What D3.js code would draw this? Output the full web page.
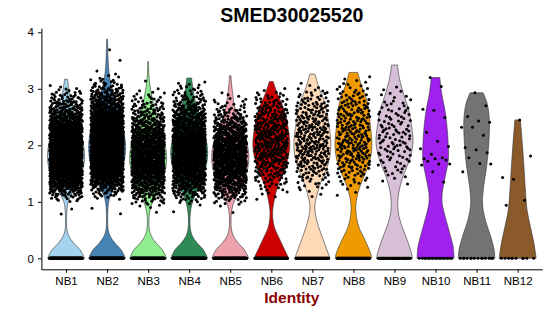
<!DOCTYPE html>
<html>
<head>
<meta charset="utf-8">
<script src="https://cdn.jsdelivr.net/npm/d3@7"></script>
<style>
  body { margin: 0; background: #fff; }
  svg { display: block; font-family: "Liberation Sans", Arial, sans-serif; }
</style>
</head>
<body>
<div id="chart"></div>
<script>
// clusters and their fill colours
const clusters = ["NB1", "NB2", "NB3", "NB4", "NB5", "NB6", "NB7", "NB8", "NB9", "NB10", "NB11", "NB12"];
const fills = ["#A4D3EE", "#4682B4", "#90EE90", "#2E8B57", "#EEA2AD", "#CD0000",
               "#FFDAB9", "#EE9A00", "#D8BFD8", "#A020F0", "#737373", "#8B5A2B"];

// violin outlines: [expression, relative width]
const profiles = [
  [[0,1],[0.15,0.76],[0.27,0.41],[0.39,0.16],[0.5,0.05],[0.7,0.03],[0.9,0.06],[1.0,0.12],[1.15,0.33],[1.3,0.6],[1.5,0.85],[1.75,1],[2.0,0.95],[2.3,0.75],[2.6,0.45],[2.85,0.25],[3.0,0.15],[3.17,0.08]],
  [[0,1],[0.15,0.76],[0.27,0.42],[0.39,0.17],[0.5,0.06],[0.7,0.03],[0.9,0.05],[1.05,0.12],[1.2,0.3],[1.4,0.6],[1.65,0.88],[1.95,1],[2.25,0.9],[2.55,0.65],[2.85,0.4],[3.1,0.2],[3.3,0.1],[3.55,0.05],[3.88,0.02]],
  [[0,1],[0.15,0.77],[0.27,0.43],[0.39,0.18],[0.5,0.07],[0.65,0.04],[0.8,0.07],[0.95,0.18],[1.1,0.38],[1.3,0.65],[1.55,0.92],[1.8,1],[2.05,0.88],[2.3,0.62],[2.55,0.4],[2.8,0.24],[3.05,0.1],[3.25,0.04],[3.48,0.02]],
  [[0,1],[0.15,0.77],[0.27,0.43],[0.39,0.18],[0.5,0.07],[0.65,0.04],[0.8,0.06],[0.95,0.14],[1.1,0.3],[1.35,0.65],[1.65,0.93],[1.9,1],[2.2,0.85],[2.5,0.6],[2.85,0.28],[3.0,0.2],[3.19,0.13]],
  [[0,1],[0.15,0.77],[0.27,0.43],[0.39,0.18],[0.5,0.07],[0.65,0.04],[0.8,0.06],[0.95,0.15],[1.1,0.35],[1.35,0.7],[1.6,0.95],[1.85,1],[2.1,0.85],[2.4,0.5],[2.65,0.25],[2.9,0.14],[3.05,0.08],[3.23,0.04]],
  [[0,0.94],[0.09,0.81],[0.32,0.48],[0.56,0.16],[0.8,0.07],[1.03,0.16],[1.27,0.34],[1.5,0.63],[1.74,0.88],[2.0,1],[2.33,0.9],[2.62,0.7],[2.92,0.32],[3.13,0.1]],
  [[0,0.95],[0.21,0.72],[0.45,0.45],[0.68,0.23],[0.91,0.13],[1.15,0.27],[1.39,0.51],[1.68,0.86],[1.98,1],[2.33,0.91],[2.74,0.68],[3.04,0.33],[3.26,0.14]],
  [[0,0.99],[0.09,0.93],[0.32,0.63],[0.56,0.29],[0.8,0.14],[0.97,0.14],[1.21,0.29],[1.44,0.56],[1.68,0.85],[1.98,1],[2.33,0.92],[2.74,0.77],[3.04,0.45],[3.29,0.23]],
  [[0,0.97],[0.09,0.92],[0.32,0.69],[0.56,0.41],[0.8,0.21],[1.03,0.18],[1.27,0.3],[1.5,0.52],[1.74,0.81],[2.04,1],[2.33,0.93],[2.62,0.77],[2.86,0.54],[3.16,0.28],[3.42,0.16]],
  [[0,1],[0.21,0.95],[0.44,0.77],[0.74,0.52],[0.97,0.36],[1.15,0.36],[1.44,0.52],[1.74,0.69],[2.04,0.68],[2.33,0.62],[2.62,0.51],[2.92,0.33],[3.2,0.23]],
  [[0,0.99],[0.15,0.95],[0.38,0.77],[0.68,0.47],[0.97,0.32],[1.27,0.38],[1.62,0.54],[2.04,0.66],[2.45,0.69],[2.74,0.57],[2.93,0.35]],
  [[0,1],[0.27,0.88],[0.56,0.69],[0.85,0.51],[1.15,0.43],[1.62,0.34],[2.04,0.25],[2.45,0.15]]
];

// cells per cluster (estimated): expressing cells and cells at zero
const nonzeroCounts = [1300, 1400, 900, 1000, 800, 380, 300, 260, 115, 0, 0, 0];
const zeroCounts = [300, 300, 250, 250, 250, 150, 120, 100, 50, 18, 14, 10];

// the sparse clusters, read point by point
const nb10Values = [3.2, 3.04, 2.64, 2.62, 2.49, 2.23, 2.07, 1.98, 1.94, 1.84, 1.78, 1.76, 1.76, 1.74, 1.72, 1.67, 1.67, 1.65, 1.53, 1.35];
const nb11Values = [2.93, 2.7, 2.51, 2.43, 2.41, 2.32, 2.32, 2.18, 1.96, 1.92, 1.87, 1.78, 1.68, 1.67, 1.53];
const nb12Values = [2.45, 1.81, 1.43, 1.4, 1.03, 0.94];
const listedValues = [null, null, null, null, null, null, null, null, null, nb10Values, nb11Values, nb12Values];

const yTicks = [0, 1, 2, 3, 4];
const yMax = 3.88;

// dimensions
const W = 550, H = 316;
const margin = {top: 28.1, right: 7.7, bottom: 46.7, left: 41.4};

const svg = d3.select("#chart").append("svg")
    .attr("width", W).attr("height", H);

const x = d3.scalePoint()
    .domain(clusters)
    .range([margin.left, W - margin.right])
    .padding(0.6);

const pad = yMax * 0.05;
const y = d3.scaleLinear()
    .domain([-pad, yMax + pad])
    .range([H - margin.bottom, margin.top]);

const half = x.step() * 0.45;   // violin half width
const jit = x.step() * 0.4;     // jitter half width

// halton sequence, used to spread the cells evenly without a random generator
function halton(i, b) {
  let f = 1, r = 0;
  while (i > 0) { f /= b; r += f * (i % b); i = Math.floor(i / b); }
  return r;
}

// expression values spread along the upper lump of a violin outline
function valuesFromProfile(profile, n) {
  if (!n) return [];
  const inner = profile.filter(p => p[0] > 0.3 && p[0] < 1.4);
  const neck = inner.reduce((a, b) => b[1] < a[1] ? b : a);
  const upper = profile.filter(p => p[0] >= neck[0]);
  const wAt = d3.scaleLinear().domain(upper.map(p => p[0])).range(upper.map(p => p[1]));
  const top = upper[upper.length - 1][0];
  const grid = d3.range(neck[0], top, 0.005);
  const floor = neck[1] + 0.07;
  let s = 0;
  const cum = grid.map(v => (s += Math.max(0.006, wAt(v) - floor)));
  const bis = d3.bisector(d => d).left;
  return d3.range(n).map(i => {
    const t = halton(i + 1, 2) * s;
    return grid[Math.min(grid.length - 1, bis(cum, t))];
  });
}

// violins
const violin = d3.area()
    .curve(d3.curveCatmullRom)
    .y(d => y(d[0]));

clusters.forEach((c, k) => {
  const cx = x(c);
  svg.append("path")
      .datum(profiles[k])
      .attr("fill", fills[k])
      .attr("stroke", "#333")
      .attr("stroke-width", 0.6)
      .attr("d", violin.x0(d => cx - d[1] * half).x1(d => cx + d[1] * half));
});

// jittered cells
clusters.forEach((c, k) => {
  const cx = x(c);
  const vals = listedValues[k] || valuesFromProfile(profiles[k], nonzeroCounts[k]);
  const zeros = d3.range(zeroCounts[k]).map(() => 0);
  const pts = zeros.concat(vals).map((v, i) => ({
    v: v,
    dx: halton(i + 1 + k * 7, 3) * 2 - 1
  }));
  svg.append("g").selectAll("circle")
      .data(pts)
      .enter()
      .append("circle")
      .attr("cx", d => cx + d.dx * jit)
      .attr("cy", d => y(d.v))
      .attr("r", 1.5)
      .attr("fill", "#000");
});

// axes
svg.append("g")
    .attr("transform", `translate(0,${H - margin.bottom})`)
    .call(d3.axisBottom(x).tickSize(3.5).tickSizeOuter(0).tickPadding(4));

svg.append("g")
    .attr("transform", `translate(${margin.left},0)`)
    .call(d3.axisLeft(y).tickValues(yTicks).tickFormat(d3.format("d"))
      .tickSize(3.5).tickSizeOuter(0).tickPadding(4));

svg.selectAll(".domain").attr("stroke", "#000").attr("stroke-width", 1);
svg.selectAll(".tick line").attr("stroke", "#000");
svg.selectAll(".tick text")
    .attr("fill", "#000")
    .style("font-size", "11.5px")
    .style("font-family", "\"Liberation Sans\", Arial, sans-serif");

// title
svg.append("text")
    .attr("x", (margin.left + W - margin.right) / 2)
    .attr("y", 22)
    .attr("text-anchor", "middle")
    .style("font-size", "19.5px")
    .style("font-weight", "bold")
    .text("SMED30025520");

// x label
svg.append("text")
    .attr("x", (margin.left + W - margin.right) / 2)
    .attr("y", 302.5)
    .attr("text-anchor", "middle")
    .attr("fill", "#8B0000")
    .style("font-size", "15.5px")
    .style("font-weight", "bold")
    .text("Identity");
</script>
</body>
</html>
